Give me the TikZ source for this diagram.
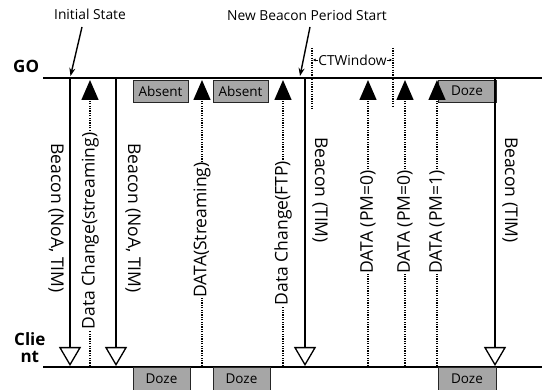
\documentclass[tikz,border=0pt]{standalone}
\usepackage{fontspec}
\setmainfont{Open Sans}
\usetikzlibrary{arrows.meta}
\tikzset{
  timeline/.style={line width=2.8pt},
  beacon/.style={line width=1.3pt,-{Triangle[open,width=22pt,length=19pt,line width=1.3pt]},fill=white},
  datamsg/.style={line width=1.4pt,dash pattern=on 1.2pt off 1.2pt,-{Triangle[width=17pt,length=20pt]}},
  dlab/.style={font=\fontsize{17.5}{20}\selectfont,fill=white,inner sep=0.6pt,rotate=90},
  blab/.style={font=\fontsize{17.5}{20}\selectfont,inner sep=0pt,rotate=-90},
  statebox/.style={draw=black!85,line width=0.9pt,fill=black!35,minimum width=56pt,minimum height=22pt,inner sep=0pt,font=\fontsize{13.5}{15}\selectfont},
  note/.style={font=\fontsize{13.8}{15}\selectfont,inner sep=0pt},
  ptr/.style={line width=1.4pt,-{Stealth[length=8pt,width=6pt]}},
  ctw/.style={line width=1.2pt,dash pattern=on 1.2pt off 1.2pt}
}
\begin{document}
\begin{tikzpicture}[x=1pt,y=-1pt]
\useasboundingbox (0,0) rectangle (542,390);
% timelines
\coordinate (goL) at (43,78); \coordinate (goR) at (542,78);
\coordinate (clL) at (43,367); \coordinate (clR) at (542,367);
\draw[timeline] (goL) -- (goR);
\draw[timeline] (clL) -- (clR);
\node[font=\fontsize{17}{20}\selectfont\bfseries,anchor=west,inner sep=0pt] (go) at (13,66) {GO};
\node[font=\fontsize{17}{20}\selectfont\bfseries,anchor=west,inner sep=0pt,align=center] (cl) at (14,348) {Clie\\[-3pt]nt};
% top boxes
\node[statebox,minimum width=55pt] (ab1) at (160.5,91) {Absent};
\node[statebox,minimum width=55pt] (ab2) at (240.5,91) {Absent};
\node[statebox,minimum width=58pt] (dzt) at (467,91) {Doze};
% bottom boxes
\node[statebox,minimum width=57pt,minimum height=23pt] (dz1) at (161.5,379) {Doze};
\node[statebox,minimum width=57pt,minimum height=23pt] (dz2) at (241.5,379) {Doze};
\node[statebox,minimum width=58pt,minimum height=23pt] (dz3) at (467,379) {Doze};
% beacon endpoints
\foreach \n/\x in {b1/70,b2/116,b3/305,b4/495}{
  \coordinate (\n t) at (\x,79);
  \coordinate (\n b) at (\x,366);
}
% data endpoints
\foreach \n/\x in {d1/90,d2/202,d3/283,d4/368,d5/405,d6/437}{
  \coordinate (\n b) at (\x,366);
  \coordinate (\n t) at (\x,80);
}
\foreach \n in {b1,b2,b3,b4}{ \draw[beacon] (\n t) -- (\n b); }
\foreach \n in {d1,d2,d3,d4,d5,d6}{ \draw[datamsg] (\n b) -- (\n t); }
% labels
\node[blab] (lb1) at (56,218) {Beacon (NoA, TIM)};
\node[blab] (lb2) at (133,218) {Beacon (NoA, TIM)};
\node[blab] (lb3) at (320,190) {Beacon (TIM)};
\node[blab] (lb4) at (510,190) {Beacon (TIM)};
\node[dlab] (ld1) at (90,231) {Data Change(streaming)};
\node[dlab] (ld2) at (202,230) {DATA(Streaming)};
\node[dlab] (ld3) at (283,233) {Data Change(FTP)};
\node[dlab] (ld4) at (368,222) {DATA (PM=0)};
\node[dlab] (ld5) at (405,222) {DATA (PM=0)};
\node[dlab] (ld6) at (437,222) {DATA (PM=1)};
% notes
\node[note] (init) at (90,14) {Initial State};
\node[note] (nbps) at (307,15) {New Beacon Period Start};
\coordinate (initTip) at (70.5,76);
\coordinate (initTail) at (82,27);
\coordinate (nbTip) at (300,76);
\coordinate (nbTail) at (310,27);
\draw[ptr] (initTail) -- (initTip);
\draw[ptr] (nbTail) -- (nbTip);
% CTWindow
\coordinate (ctl1) at (312,48); \coordinate (ctl2) at (312,109);
\coordinate (ctr1) at (393,48); \coordinate (ctr2) at (393,106);
\draw[ctw] (ctl1) -- (ctl2);
\draw[ctw] (ctr1) -- (ctr2);
\node[note,inner sep=0pt] (ctw) at (352.5,60) {CTWindow};
\coordinate (ctwa) at (313,60); \coordinate (ctwb) at (392,60);
\draw[line width=0.6pt,-{Latex[length=2.5pt,width=3pt]}] (ctw.west) -- (ctwa);
\draw[line width=0.6pt,-{Latex[length=2.5pt,width=3pt]}] (ctw.east) -- (ctwb);
\end{tikzpicture}
\end{document}
